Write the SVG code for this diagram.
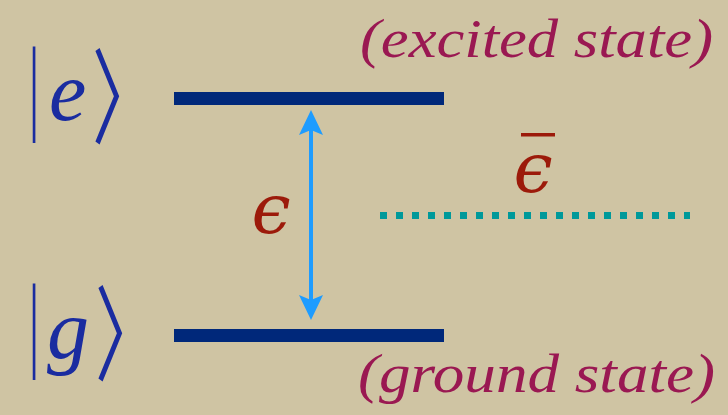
<svg xmlns="http://www.w3.org/2000/svg" width="728" height="415" viewBox="0 0 728 415">
<style>
.level{fill:#00287a}
.ket{fill:#1a2ca0;font-family:"Liberation Serif","Times New Roman","DejaVu Serif",serif}
.kv{font-size:106px}
.ka{font-family:"Noto Sans CJK JP",sans-serif;font-size:110px}
.kl{font-style:italic;font-size:84px}
.note{fill:#9a1852;font-family:"Liberation Serif","Times New Roman","DejaVu Serif",serif;font-style:italic;font-size:54px}
.eps{fill:#9c1a0a;font-family:"DejaVu Serif",serif;font-style:italic;font-size:70px}
.arrow{fill:#1e9cff}
.dots{stroke:#00999a;stroke-width:7;stroke-dasharray:7 9}
</style>
<rect width="728" height="415" fill="#cfc4a3"/>
<g id="excited-state">
<rect class="level" x="174" y="92" width="270" height="13"/>
<text class="ket kv" transform="translate(34,120) scale(0.5,1)" text-anchor="middle">|</text>
<text class="ket kl" x="49" y="120">e</text>
<text class="ket ka" transform="translate(92,135.5) scale(0.6,0.94)">〉</text>
<text class="note" x="360" y="57" textLength="353" lengthAdjust="spacingAndGlyphs">(excited state)</text>
</g>
<g id="ground-state">
<rect class="level" x="174" y="329" width="270" height="13"/>
<text class="ket kv" transform="translate(34,357) scale(0.5,1)" text-anchor="middle">|</text>
<text class="ket kl" x="47" y="358">g</text>
<text class="ket ka" transform="translate(95,372.5) scale(0.6,0.94)">〉</text>
<text class="note" x="358" y="392" textLength="357" lengthAdjust="spacingAndGlyphs">(ground state)</text>
</g>
<g id="mean-level">
<line class="dots" x1="380" y1="215.5" x2="690" y2="215.5"/>
<rect x="521" y="133" width="34" height="3.5" fill="#9c1a0a"/>
<text class="eps" x="533" y="192" text-anchor="middle">ϵ</text>
</g>
<g id="connectors">
<rect class="arrow" x="309" y="128" width="4" height="172"/>
<path class="arrow" d="M311,110 L323,135 L311,130 L299,135 Z"/>
<path class="arrow" d="M311,320 L323,295 L311,300 L299,295 Z"/>
<text class="eps" x="271" y="233" text-anchor="middle">ϵ</text>
</g>
</svg>
